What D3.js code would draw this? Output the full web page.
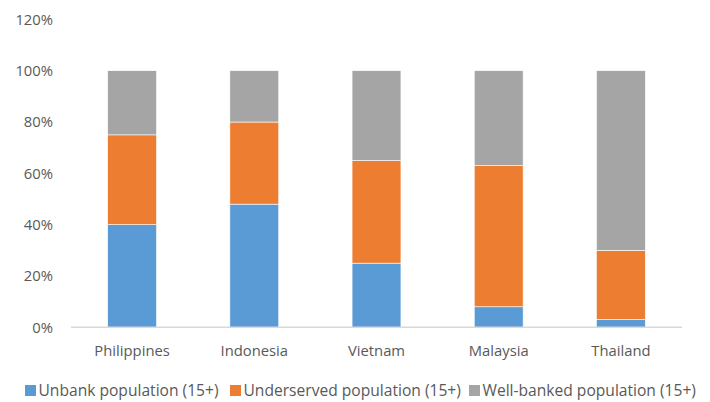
<!DOCTYPE html>
<html>
<head>
<meta charset="utf-8">
<script src="https://cdn.jsdelivr.net/npm/d3@7"></script>
<style>
  html, body { margin: 0; padding: 0; background: #fff; }
  svg { display: block; }
  text { font-family: "Open Sans", sans-serif; fill: #595959; }
</style>
</head>
<body>
<svg id="chart" width="710" height="402"></svg>
<script>
// Share of adult population (15+) by banking status
const countries = ["Philippines", "Indonesia", "Vietnam", "Malaysia", "Thailand"];
const unbanked = [40, 48, 25, 8, 3];
const underserved = [35, 32, 40, 55, 27];
const wellBanked = [25, 20, 35, 37, 70];
const seriesNames = ["Unbank population (15+)", "Underserved population (15+)", "Well-banked population (15+)"];
const seriesColors = ["#5B9BD5", "#ED7D31", "#A5A5A5"];
const yTicks = [0, 20, 40, 60, 80, 100, 120];

const rows = countries.map((c, i) => ({
  country: c, s0: unbanked[i], s1: underserved[i], s2: wellBanked[i]
}));
const keys = ["s0", "s1", "s2"];
const stacked = d3.stack().keys(keys)(rows);

const svg = d3.select("#chart");
const plotLeft = 71, plotRight = 682, plotTop = 19.4, plotBottom = 327.3;
const fontFamily = "'Open Sans', sans-serif";
const axisFontSize = 14.8;
const legendFontSize = 15.6;

const x = d3.scaleBand().domain(countries).range([plotLeft, plotRight])
  .paddingInner(0.6).paddingOuter(0.3);
const y = d3.scaleLinear().domain([0, 120]).range([plotBottom, plotTop]);

// bars
svg.append("g").selectAll("g").data(stacked).join("g")
  .attr("fill", (d, i) => seriesColors[i])
  .selectAll("rect").data(d => d).join("rect")
  .attr("x", d => x(d.data.country))
  .attr("width", x.bandwidth())
  .attr("y", d => y(d[1]))
  .attr("height", d => y(d[0]) - y(d[1]))
  .attr("stroke", "#ffffff")
  .attr("stroke-width", 0.6);

// y axis labels
const yAxis = d3.axisLeft(y).tickValues(yTicks).tickFormat(d => d + "%").tickSize(0).tickPadding(0);
const gy = svg.append("g").attr("transform", `translate(${53},0)`).call(yAxis);
gy.select(".domain").remove();
gy.selectAll("text").attr("font-size", axisFontSize).attr("fill", "#595959")
  .style("font-family", fontFamily);

// x axis
const xAxis = d3.axisBottom(x).tickSize(0).tickPadding(0);
const gx = svg.append("g").attr("transform", `translate(0,${plotBottom})`).call(xAxis);
gx.select(".domain").attr("stroke", "#D9D9D9").attr("stroke-width", 1.5)
  .attr("d", `M${plotLeft},0H${plotRight}`);
gx.selectAll("text").attr("font-size", axisFontSize).attr("fill", "#595959")
  .attr("dy", 0).attr("y", 28.8)
  .style("font-family", fontFamily);

// legend
const legendX = [25, 230, 469];
const lg = svg.append("g").selectAll("g").data(seriesNames).join("g")
  .attr("transform", (d, i) => `translate(${legendX[i]},385)`);
lg.append("rect").attr("width", 11).attr("height", 11)
  .attr("fill", (d, i) => seriesColors[i]);
lg.append("text").attr("x", 13.5).attr("y", 11.3)
  .attr("font-size", legendFontSize).style("font-family", fontFamily).text(d => d);
</script>
</body>
</html>
